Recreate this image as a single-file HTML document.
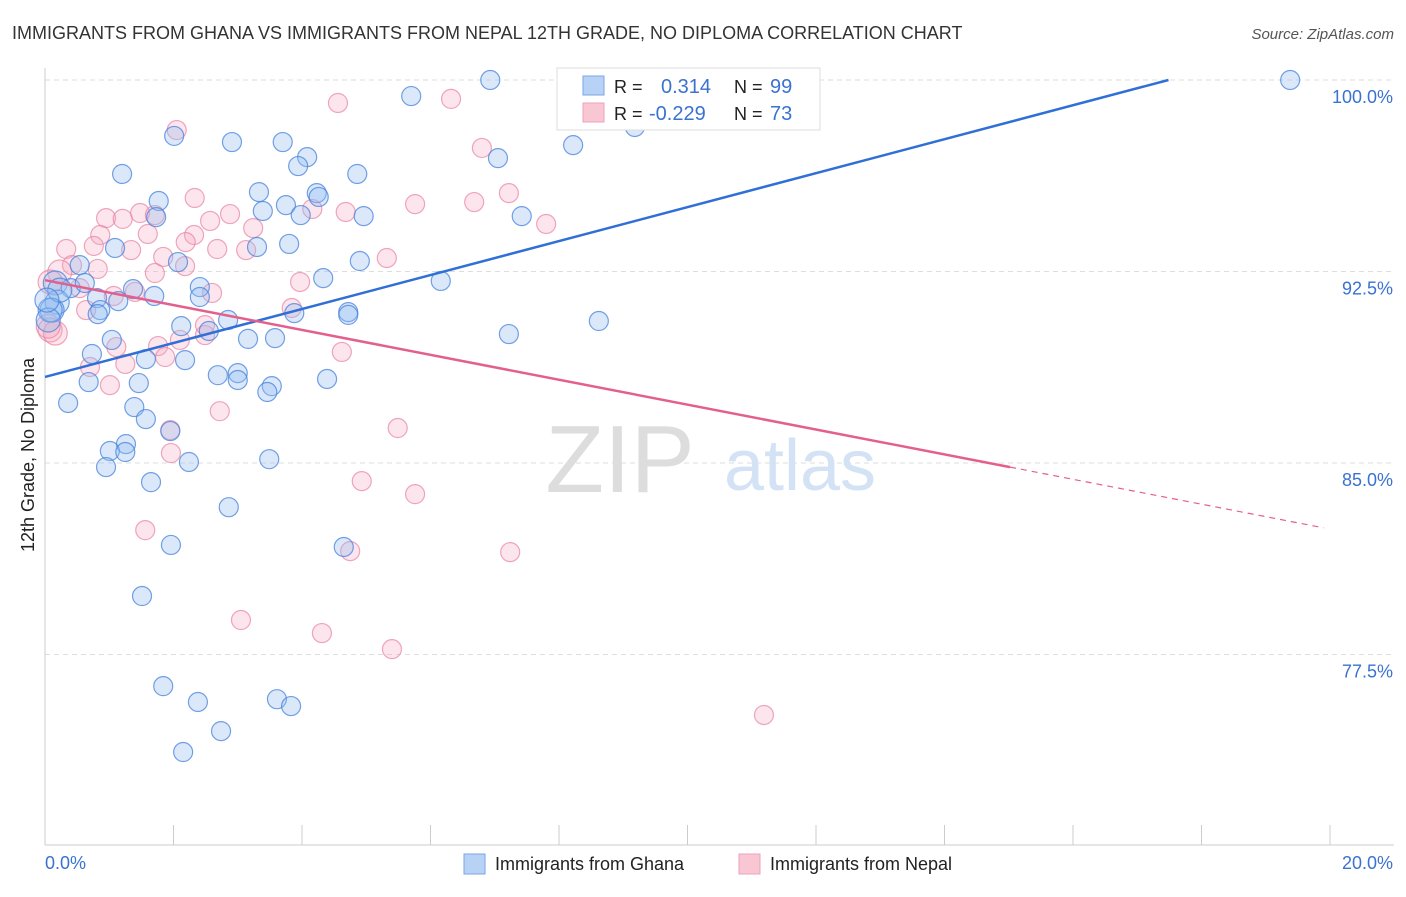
<!DOCTYPE html>
<html><head><meta charset="utf-8"><style>
body{margin:0;background:#fff;font-family:"Liberation Sans",sans-serif}
svg text{font-family:"Liberation Sans",sans-serif}
</style></head><body>
<svg id="chart" width="1406" height="892" xmlns="http://www.w3.org/2000/svg">
<text x="12" y="39" font-size="18" fill="#333">IMMIGRANTS FROM GHANA VS IMMIGRANTS FROM NEPAL 12TH GRADE, NO DIPLOMA CORRELATION CHART</text>
<text x="1394" y="39" font-size="15" fill="#555" font-style="italic" text-anchor="end">Source: ZipAtlas.com</text>
<text transform="translate(34,455) rotate(-90)" font-size="18" fill="#222" text-anchor="middle">12th Grade, No Diploma</text>
<g id="grid"></g>
<g id="yticks"></g>
<line x1="45" y1="68" x2="45" y2="845" stroke="#ccc"/>
<line x1="45" y1="845" x2="1394" y2="845" stroke="#ccc"/>
<g id="xticks"></g>
<text x="620" y="492" font-size="96" fill="#ddd" font-family="Liberation Serif" text-anchor="middle">ZIP</text>
<text x="800" y="490" font-size="72" fill="#d4e2f5" text-anchor="middle">atlas</text>
<g id="pink"></g>
<g id="blue"></g>
<g id="trends"></g>
<text x="45" y="869" font-size="18" fill="#3a72d0">0.0%</text>
<text x="1393" y="869" font-size="18" fill="#3a72d0" text-anchor="end">20.0%</text>
<g>
<rect x="557" y="68" width="263" height="62" fill="#fff" stroke="#ddd"/>
<rect x="583" y="76" width="21" height="19" fill="#b8d2f5" stroke="#7aa6e6"/>
<rect x="583" y="103" width="21" height="19" fill="#f9c6d4" stroke="#eca2b8"/>
<text x="614" y="93" font-size="18" fill="#222">R =</text>
<text x="661" y="93" font-size="20" fill="#3a72d0">0.314</text>
<text x="734" y="93" font-size="18" fill="#222">N =</text>
<text x="770" y="93" font-size="20" fill="#3a72d0">99</text>
<text x="614" y="120" font-size="18" fill="#222">R =</text>
<text x="649" y="120" font-size="20" fill="#3a72d0">-0.229</text>
<text x="734" y="120" font-size="18" fill="#222">N =</text>
<text x="770" y="120" font-size="20" fill="#3a72d0">73</text>
</g>
<g>
<rect x="464" y="854" width="21" height="20" fill="#b8d2f5" stroke="#7aa6e6"/>
<text x="495" y="870" font-size="18" fill="#222">Immigrants from Ghana</text>
<rect x="739" y="854" width="21" height="20" fill="#f9c6d4" stroke="#eca2b8"/>
<text x="770" y="870" font-size="18" fill="#222">Immigrants from Nepal</text>
</g>
</svg>
<script>
const yTicks=[100,92.5,85,77.5];
const yTickLabels=["100.0%","92.5%","85.0%","77.5%"];
const xTicks=[0,2,4,6,8,10,12,14,16,18,20];
const ghanaX=[6.93,19.38,5.70,9.18,8.22,2.01,2.91,3.70,4.08,3.94,7.05,1.20,4.86,1.77,3.33,4.23,4.26,3.75,3.39,1.73,3.98,4.96,7.42,1.09,3.30,3.80,4.90,0.54,2.07,4.33,6.16,0.16,0.40,0.62,0.81,1.37,2.41,1.70,2.41,1.14,0.19,0.11,0.86,0.82,4.72,4.72,3.88,8.62,2.12,2.85,2.55,3.16,3.58,7.22,1.04,0.73,1.57,2.18,2.69,3.00,3.00,4.39,3.53,3.46,0.68,1.46,0.36,1.39,1.57,1.95,1.26,1.01,1.25,3.49,2.24,0.95,1.65,2.86,1.96,4.65,1.51,1.84,2.38,3.61,3.83,2.74,2.15,0.08,0.05,0.23,0.03];
const ghanaY=[100,100,99.37,98.16,97.45,97.81,97.57,97.57,96.98,96.63,96.94,96.32,96.32,95.26,95.61,95.57,95.42,95.10,94.87,94.63,94.71,94.67,94.67,93.42,93.46,93.58,92.91,92.75,92.87,92.24,92.13,92.05,91.85,92.05,91.46,91.81,91.89,91.54,91.50,91.34,91.30,90.99,90.99,90.83,90.91,90.80,90.87,90.56,90.36,90.60,90.17,89.86,89.89,90.05,89.82,89.27,89.07,89.03,88.44,88.52,88.25,88.29,88.01,87.78,88.17,88.13,87.35,87.19,86.72,86.25,85.74,85.47,85.43,85.15,85.04,84.84,84.25,83.27,81.79,81.71,79.79,76.26,75.64,75.75,75.48,74.50,73.68,90.99,90.60,91.77,91.38];
const nepalX=[4.56,6.32,2.05,6.80,7.22,2.33,5.76,6.68,4.68,1.48,1.71,0.95,1.21,2.88,2.57,4.16,7.80,0.86,1.60,2.32,0.33,0.76,1.34,2.68,2.19,3.13,5.32,3.24,1.84,0.42,0.82,2.18,0.23,1.71,0.08,0.54,3.97,2.60,1.07,1.40,3.84,0.64,2.49,2.10,1.11,1.76,4.62,1.87,0.70,1.25,1.01,2.72,5.49,1.95,1.96,4.93,5.76,1.56,4.75,7.24,3.05,4.31,5.40,11.19,0.08,0.16,0.05,2.49];
const nepalY=[99.10,99.26,98.04,97.34,95.57,95.38,95.14,95.22,94.83,94.79,94.71,94.59,94.56,94.75,94.48,94.95,94.36,93.93,93.97,93.93,93.38,93.50,93.34,93.38,93.65,93.34,93.03,94.20,93.07,92.75,92.60,92.71,92.48,92.44,92.09,91.85,92.09,91.66,91.54,91.70,91.07,90.99,90.01,89.82,89.54,89.58,89.35,89.15,88.76,88.88,88.05,87.03,86.37,86.29,85.39,84.29,83.78,82.37,81.55,81.51,78.85,78.34,77.71,75.13,90.21,90.09,90.36,90.40];
const ghanaTrend=[88.37,0.6651];
const nepalTrend=[92.16,-0.4874];
const nepalSolidEnd=15.02;
const NS="http://www.w3.org/2000/svg";
const sx=v=>45+v/20*1285;
const sy=v=>80+(100-v)/7.5*191.5;
function mk(t,a,p){const e=document.createElementNS(NS,t);for(const k in a)e.setAttribute(k,a[k]);p.appendChild(e);return e;}
const grid=document.getElementById('grid'),yt=document.getElementById('yticks');
yTicks.forEach((v,i)=>{
 const l=mk('line',{x1:45,x2:1394,y1:sy(v),y2:sy(v),stroke:'#ddd','stroke-dasharray':'5,4'},grid);
 
 
 const t=mk('text',{x:1393,y:sy(v)+23,'font-size':18,fill:'#3a72d0','text-anchor':'end'},yt);
 t.textContent=yTickLabels[i];
 
 
});
const xt=document.getElementById('xticks');
xTicks.forEach(v=>{
 const l=mk('line',{x1:sx(v),x2:sx(v),y1:825,y2:845,stroke:'#ccc'},xt);
 
 
});
function pts(xs,ys,g,fill,stroke,name){
 xs.forEach((x,i)=>{
  const r=x<0.3?12:9.5;
  const c=mk('circle',{cx:sx(x),cy:sy(ys[i]),r:r,fill:fill,stroke:stroke,'stroke-width':1.2},g);
  
  
 });
}
pts(nepalX,nepalY,document.getElementById('pink'),'rgba(244,168,192,0.3)','rgba(232,130,162,0.7)','nepal-point');
pts(ghanaX,ghanaY,document.getElementById('blue'),'rgba(150,190,240,0.35)','rgba(70,130,220,0.75)','ghana-point');
const tr=document.getElementById('trends');
const gEnd=(100-ghanaTrend[0])/ghanaTrend[1];
const b=mk('line',{x1:sx(0),y1:sy(ghanaTrend[0]),x2:sx(gEnd),y2:sy(100),stroke:'#2f6fd6','stroke-width':2.5},tr);


const p1=mk('line',{x1:sx(0),y1:sy(nepalTrend[0]+0),x2:sx(nepalSolidEnd),y2:sy(nepalTrend[0]+nepalTrend[1]*nepalSolidEnd),stroke:'#e4608c','stroke-width':2.5},tr);


const p2=mk('line',{x1:sx(nepalSolidEnd),y1:sy(nepalTrend[0]+nepalTrend[1]*nepalSolidEnd),x2:sx(19.9),y2:sy(nepalTrend[0]+nepalTrend[1]*19.9),stroke:'#e4608c','stroke-width':1.2,'stroke-dasharray':'6,5'},tr);


</script>
</body></html>
